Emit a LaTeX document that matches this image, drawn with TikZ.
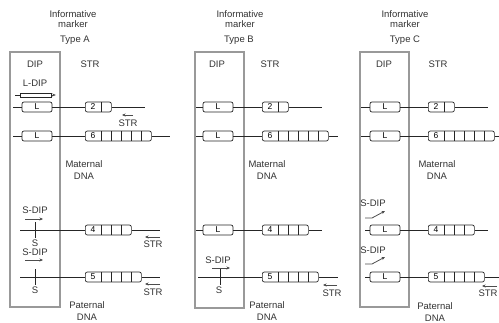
\documentclass[tikz,border=0pt]{standalone}
\usepackage{fontspec}
\setmainfont{Liberation Sans}
\usetikzlibrary{arrows.meta,calc,positioning}

% STR repeat block: name, x (west end), y, repeat number, number of cells
\newcommand{\repunit}[5]{%
  \node[rep, minimum width={16pt+10pt*#5}, anchor=west] (#1) at (#2,#3) {};
  \node[num] (#1n) at ($(#1.west)+(8,0)$) {#4};
  \foreach \cell in {1,...,#5}
    \draw[row] ($(#1.west)+(6+10*\cell,-5)$) -- ++(0,10);
}

\begin{document}
\begin{tikzpicture}[x=1pt,y=-1pt,
  lbl/.style={font=\fontsize{9.5}{10}\selectfont, text=black!80, inner sep=0pt, align=center},
  dna/.style={lbl, font=\fontsize{9.5}{12}\selectfont},
  dipbox/.style={draw=black!40, line width=1.3pt},
  row/.style={draw=black!85, line width=0.7pt},
  lbox/.style={row, rounded corners=2pt, minimum width=30pt, minimum height=10pt, inner sep=0pt, font=\fontsize{8.5}{9}\selectfont},
  rep/.style={row, rounded corners=2pt, minimum height=10pt, inner sep=0pt},
  num/.style={font=\fontsize{8.5}{9}\selectfont, inner sep=0pt},
  dir/.style={draw=black!70, line width=0.8pt, -{Stealth[length=3.5pt,width=3pt]}},
]
\clip (0,0) rectangle (499,322);
% pixel grid of the 499x322 original, y pointing down

%% ---------- Type A ----------
\node[lbl] (hA) at (73,19) {Informative\\marker};
\node[lbl] (tA) at (75,40) {Type A};
\draw[dipbox] (10,52) rectangle (60,307);
\node[lbl] (dipA) at (35,64) {DIP};
\node[lbl] (strA) at (90,64) {STR};
\node[lbl] (ldipA) at (35,83) {L-DIP};
% long insertion
\node[row, line width=0.6pt, minimum width=31pt, minimum height=4pt, inner sep=0pt] (barA) at (36,95) {};
\coordinate (barAs) at (15,95);
\draw[row] (barAs) -- (barA);
\draw[dir] (barA.east) -- ++(4,0);
% maternal rows
\coordinate (a1s) at (13,107);
\node[lbox] (a1l) at (37,107) {L};
\repunit{a1r}{85}{107}{2}{1}
\coordinate (a1e) at (145,107);
\draw[row] (a1s) -- (a1l) (a1l) -- (a1r) (a1r) -- (a1e);
\node[lbl] (a1str) at (128,123) {STR};
\draw[dir] (133,115) -- (122,115);
\coordinate (a2s) at (13,136);
\node[lbox] (a2l) at (37,136) {L};
\repunit{a2r}{85}{136}{6}{5}
\coordinate (a2e) at (170,136);
\draw[row] (a2s) -- (a2l) (a2l) -- (a2r) (a2r) -- (a2e);
\node[dna] (matA) at (84,170) {Maternal\\DNA};
% paternal rows
\node[lbl] (sdA1) at (35,210) {S-DIP};
\draw[dir] (25,219) -- (43,219);
\coordinate (a3s) at (20,230);
\repunit{a3r}{85}{230}{4}{3}
\coordinate (a3e) at (160,230);
\draw[row] (a3s) -- (a3r) (a3r) -- (a3e);
\draw[row] (35,222) -- (35,238);
\node[lbl] (sA1) at (35,243) {S};
\node[lbl] (a3str) at (153,244) {STR};
\draw[dir] (160,237) -- (145,237);
\node[lbl] (sdA2) at (35,252) {S-DIP};
\draw[dir] (25,260) -- (43,260);
\coordinate (a4s) at (20,277);
\repunit{a4r}{85}{277}{5}{4}
\coordinate (a4e) at (160,277);
\draw[row] (a4s) -- (a4r) (a4r) -- (a4e);
\draw[row] (35,269) -- (35,285);
\node[lbl] (sA2) at (35,290) {S};
\node[lbl] (a4str) at (153,292) {STR};
\draw[dir] (160,284) -- (145,284);
\node[dna] (patA) at (87,311) {Paternal\\DNA};

%% ---------- Type B ----------
\node[lbl] (hB) at (240,19) {Informative\\marker};
\node[lbl] (tB) at (239,40) {Type B};
\draw[dipbox] (195,52) rectangle (244,308);
\node[lbl] (dipB) at (217,64) {DIP};
\node[lbl] (strB) at (270,64) {STR};
\coordinate (b1s) at (196,107);
\node[lbox] (b1l) at (218,107) {L};
\repunit{b1r}{262}{107}{2}{1}
\coordinate (b1e) at (322,107);
\draw[row] (b1s) -- (b1l) (b1l) -- (b1r) (b1r) -- (b1e);
\coordinate (b2s) at (196,136);
\node[lbox] (b2l) at (218,136) {L};
\repunit{b2r}{262}{136}{6}{5}
\coordinate (b2e) at (338,136);
\draw[row] (b2s) -- (b2l) (b2l) -- (b2r) (b2r) -- (b2e);
\node[dna] (matB) at (267,170) {Maternal\\DNA};
\coordinate (b3s) at (196,230);
\node[lbox] (b3l) at (218,230) {L};
\repunit{b3r}{262}{230}{4}{3}
\coordinate (b3e) at (322,230);
\draw[row] (b3s) -- (b3l) (b3l) -- (b3r) (b3r) -- (b3e);
\node[lbl] (sdB) at (218,260) {S-DIP};
\draw[dir] (212,268) -- (230,268);
\coordinate (b4s) at (198,277);
\repunit{b4r}{262}{277}{5}{4}
\coordinate (b4e) at (338,277);
\draw[row] (b4s) -- (b4r) (b4r) -- (b4e);
\draw[row] (220,269) -- (220,285);
\node[lbl] (sB) at (219,290) {S};
\node[lbl] (b4str) at (332,293) {STR};
\draw[dir] (337,285) -- (323,285);
\node[dna] (patB) at (267,311) {Paternal\\DNA};

%% ---------- Type C ----------
\node[lbl] (hC) at (405,19) {Informative\\marker};
\node[lbl] (tC) at (405,40) {Type C};
\draw[dipbox] (360,52) rectangle (409,307);
\node[lbl] (dipC) at (384,64) {DIP};
\node[lbl] (strC) at (438,64) {STR};
\coordinate (c1s) at (361,107);
\node[lbox] (c1l) at (385,107) {L};
\repunit{c1r}{428}{107}{2}{1}
\coordinate (c1e) at (488,107);
\draw[row] (c1s) -- (c1l) (c1l) -- (c1r) (c1r) -- (c1e);
\coordinate (c2s) at (361,136);
\node[lbox] (c2l) at (385,136) {L};
\repunit{c2r}{428}{136}{6}{5}
\coordinate (c2e) at (500,136);
\draw[row] (c2s) -- (c2l) (c2l) -- (c2r) (c2r) -- (c2e);
\node[dna] (matC) at (437,170) {Maternal\\DNA};
\node[lbl] (sdC1) at (373,203) {S-DIP};
\draw[dir] (365,218) -- (372,218) -- (385,211);
\coordinate (c3s) at (365,230);
\node[lbox] (c3l) at (385,230) {L};
\repunit{c3r}{428}{230}{4}{3}
\coordinate (c3e) at (488,230);
\draw[row] (c3s) -- (c3l) (c3l) -- (c3r) (c3r) -- (c3e);
\node[lbl] (sdC2) at (373,250) {S-DIP};
\draw[dir] (365,264) -- (372,264) -- (385,257);
\coordinate (c4s) at (365,277);
\node[lbox] (c4l) at (385,277) {L};
\repunit{c4r}{428}{277}{5}{4}
\coordinate (c4e) at (500,277);
\draw[row] (c4s) -- (c4l) (c4l) -- (c4r) (c4r) -- (c4e);
\node[lbl] (c4str) at (488,293) {STR};
\draw[dir] (497,286) -- (482,286);
\node[dna] (patC) at (435,312) {Paternal\\DNA};
\end{tikzpicture}
\end{document}
